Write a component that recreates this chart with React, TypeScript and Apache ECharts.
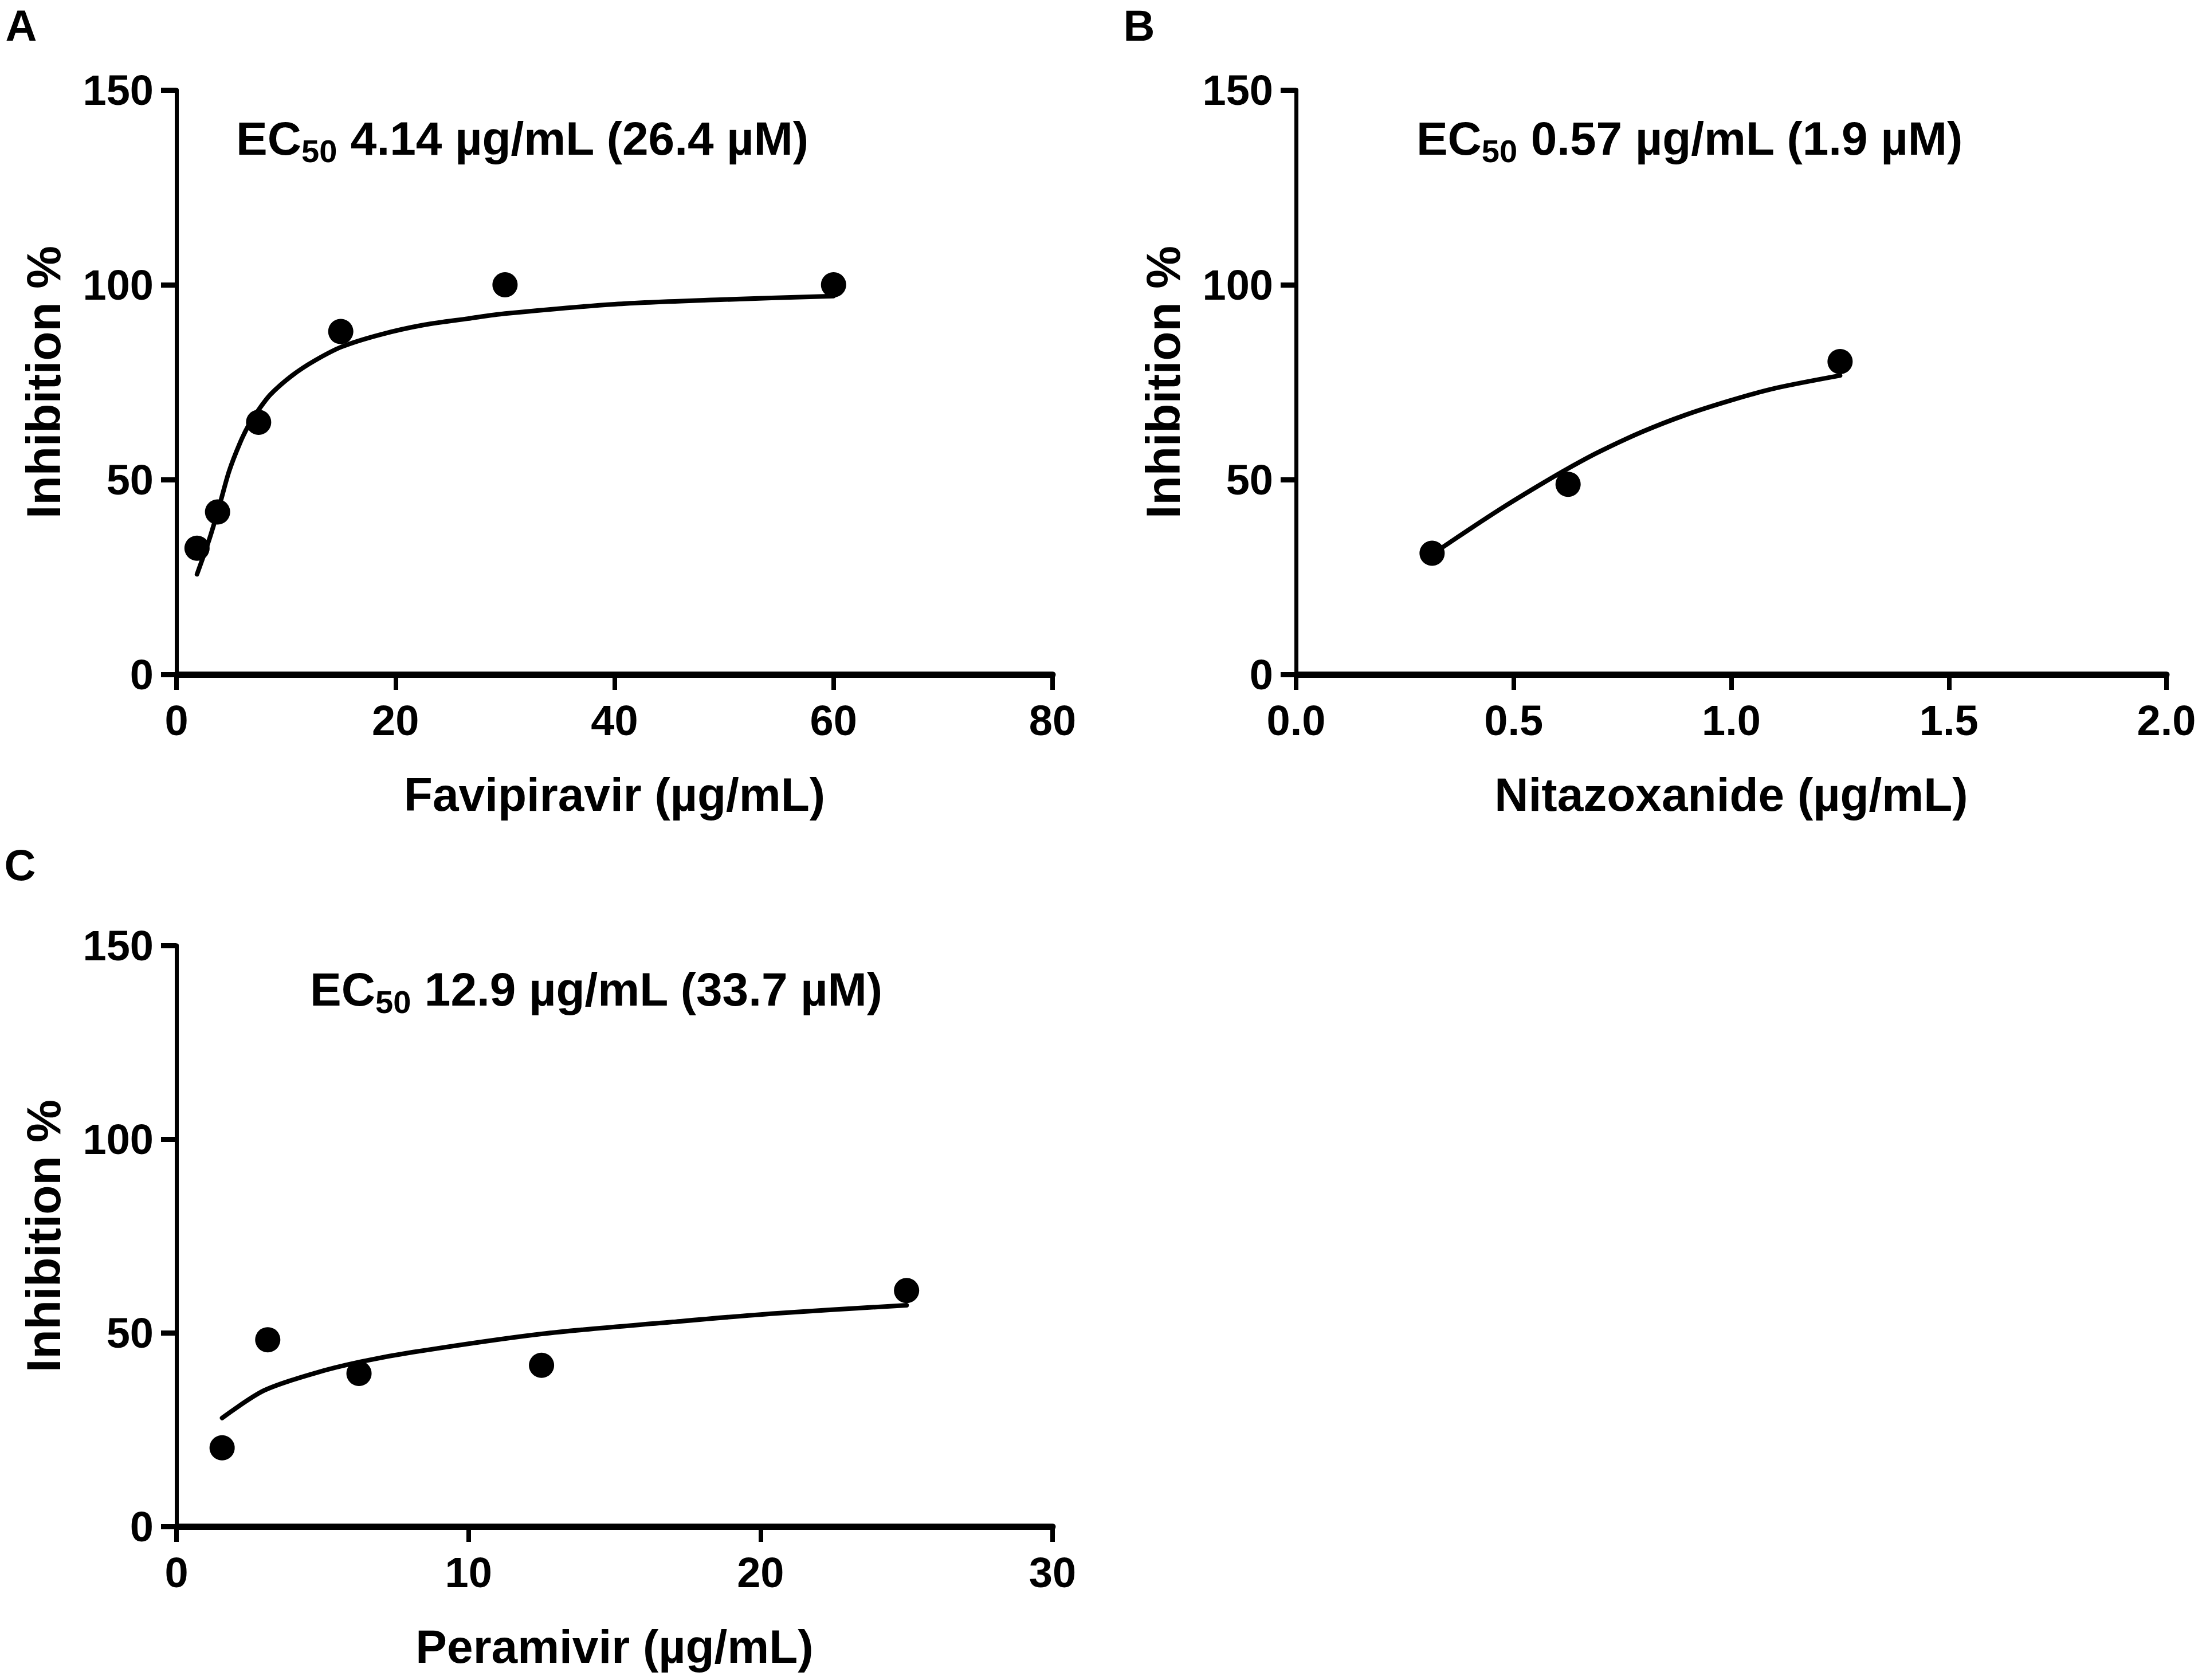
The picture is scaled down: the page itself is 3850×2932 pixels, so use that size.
import React, { useEffect, useRef } from "react";
import * as echarts from "echarts";

// ---------- data ----------
const yTicks = [0, 50, 100, 150];

// Panel A – Favipiravir
const favTicks = [0, 20, 40, 60, 80];
const favX = [1.875, 3.75, 7.5, 15, 30, 60];
const favY = [32.4, 41.7, 64.7, 88.0, 100, 100];
const favFitX = [1.875, 3.0, 3.9, 4.8, 5.8, 6.6, 7.6, 8.6, 10.6, 12.6, 15.1, 18.6, 22.6, 26.6, 30, 40, 50, 60];
const favFitY = [25.7, 34.7, 43.1, 52.1, 59.4, 64.0, 68.3, 71.9, 76.8, 80.5, 84.1, 87.2, 89.7, 91.3, 92.6, 95.0, 96.2, 97.1];

// Panel B – Nitazoxanide
const nitTicks = [0, 0.5, 1.0, 1.5, 2.0];
const nitX = [0.3125, 0.625, 1.25];
const nitY = [31.1, 48.8, 80.3];
const nitFitX = [0.3125, 0.403, 0.483, 0.564, 0.624, 0.694, 0.794, 0.895, 0.995, 1.095, 1.25];
const nitFitY = [30.8, 37.6, 43.4, 48.9, 52.8, 57.0, 62.2, 66.6, 70.2, 73.3, 76.7];

// Panel C – Peramivir
const perTicks = [0, 10, 20, 30];
const perX = [1.5625, 3.125, 6.25, 12.5, 25];
const perY = [20.3, 48.2, 39.5, 41.6, 60.9];
const perFitX = [1.5625, 3.0, 4.75, 6.3, 8.1, 12.5, 17.0, 20.5, 25];
const perFitY = [28.0, 35.1, 39.6, 42.5, 45.0, 49.7, 52.8, 55.0, 57.1];

const panelLetters = ["A", "B", "C"];
const xTitles = ["Favipiravir (µg/mL)", "Nitazoxanide (µg/mL)", "Peramivir (µg/mL)"];
const yTitle = "Inhibition %";
const ecValues = [" 4.14 µg/mL (26.4 µM)", " 0.57 µg/mL (1.9 µM)", " 12.9 µg/mL (33.7 µM)"];

// ---------- styling ----------
const FONT = "'Liberation Sans', Arial, sans-serif";
const BLACK = "#000000";

const grids = [
  { left: 308, top: 157, width: 1529, height: 1020 },
  { left: 2262, top: 157, width: 1519, height: 1020 },
  { left: 308, top: 1650, width: 1529, height: 1014 },
];

function makeX(gridIndex: number, ticks: number[], name: string, decimals: number) {
  return {
    type: "value",
    gridIndex,
    min: ticks[0],
    max: ticks[ticks.length - 1],
    interval: ticks[1] - ticks[0],
    name,
    nameLocation: "middle",
    nameGap: 168,
    nameTextStyle: { fontFamily: FONT, fontWeight: "bold", fontSize: 82, color: BLACK },
    axisLine: { show: true, onZero: false, lineStyle: { color: BLACK, width: 11 } },
    axisTick: { show: true, length: 27, lineStyle: { color: BLACK, width: 8 } },
    axisLabel: {
      margin: 43,
      fontFamily: FONT,
      fontWeight: "bold",
      fontSize: 74,
      color: BLACK,
      formatter: (v: number) => v.toFixed(decimals),
    },
    splitLine: { show: false },
  };
}

function makeY(gridIndex: number) {
  return {
    type: "value",
    gridIndex,
    min: yTicks[0],
    max: yTicks[yTicks.length - 1],
    interval: yTicks[1] - yTicks[0],
    name: yTitle,
    nameLocation: "middle",
    nameGap: 190,
    nameTextStyle: { fontFamily: FONT, fontWeight: "bold", fontSize: 84, color: BLACK },
    axisLine: { show: true, onZero: false, lineStyle: { color: BLACK, width: 7 } },
    axisTick: { show: true, length: 27, lineStyle: { color: BLACK, width: 9 } },
    axisLabel: {
      margin: 40,
      fontFamily: FONT,
      fontWeight: "bold",
      fontSize: 74,
      color: BLACK,
    },
    splitLine: { show: false },
  };
}

function zip(xs: number[], ys: number[]) {
  return xs.map((x, i) => [x, ys[i]]);
}

function scatter(i: number, xs: number[], ys: number[]) {
  return {
    type: "scatter",
    xAxisIndex: i,
    yAxisIndex: i,
    data: zip(xs, ys),
    symbol: "circle",
    symbolSize: 44,
    itemStyle: { color: BLACK, opacity: 1 },
    z: 3,
  };
}

function fit(i: number, xs: number[], ys: number[]) {
  return {
    type: "line",
    xAxisIndex: i,
    yAxisIndex: i,
    data: zip(xs, ys),
    smooth: 0.3,
    showSymbol: false,
    symbol: "none",
    lineStyle: { color: BLACK, width: 8, cap: "round", join: "round" },
    z: 2,
  };
}

function ecLabel(x: number, y: number, rest: string) {
  return {
    type: "text",
    x,
    y,
    style: {
      text: "{m|EC}{s|50}{m|" + rest + "}",
      align: "center",
      verticalAlign: "middle",
      rich: {
        m: { fontFamily: FONT, fontWeight: "bold", fontSize: 82, lineHeight: 100, fill: BLACK, color: BLACK },
        s: {
          fontFamily: FONT,
          fontWeight: "bold",
          fontSize: 56,
          lineHeight: 58,
          verticalAlign: "bottom",
          fill: BLACK,
          color: BLACK,
        },
      },
    },
  };
}

function letter(x: number, y: number, t: string) {
  return {
    type: "text",
    x,
    y,
    style: {
      text: t,
      fontFamily: FONT,
      fontWeight: "bold",
      fontSize: 76,
      fill: BLACK,
      align: "center",
      verticalAlign: "middle",
    },
  };
}

export default function App() {
  const ref = useRef<HTMLDivElement>(null);

  useEffect(() => {
    if (!ref.current) return;
    const chart = echarts.init(ref.current, null, { renderer: "svg" });
    const option = {
      animation: false,
      backgroundColor: "#ffffff",
      grid: grids.map((g) => ({ ...g, containLabel: false })),
      xAxis: [
        makeX(0, favTicks, xTitles[0], 0),
        makeX(1, nitTicks, xTitles[1], 1),
        makeX(2, perTicks, xTitles[2], 0),
      ],
      yAxis: [makeY(0), makeY(1), makeY(2)],
      series: [
        fit(0, favFitX, favFitY),
        scatter(0, favX, favY),
        fit(1, nitFitX, nitFitY),
        scatter(1, nitX, nitY),
        fit(2, perFitX, perFitY),
        scatter(2, perX, perY),
      ],
      graphic: [
        letter(37, 44, panelLetters[0]),
        letter(1988, 44, panelLetters[1]),
        letter(35, 1509, panelLetters[2]),
        ecLabel(912, 241, ecValues[0]),
        ecLabel(2949, 241, ecValues[1]),
        ecLabel(1041, 1726, ecValues[2]),
      ],
    };
    chart.setOption(option as any);
    return () => {
      chart.dispose();
    };
  }, []);

  return (
    <div
      ref={ref}
      style={{ position: "absolute", left: 0, top: 0, width: 3850, height: 2932, background: "#fff" }}
    />
  );
}
